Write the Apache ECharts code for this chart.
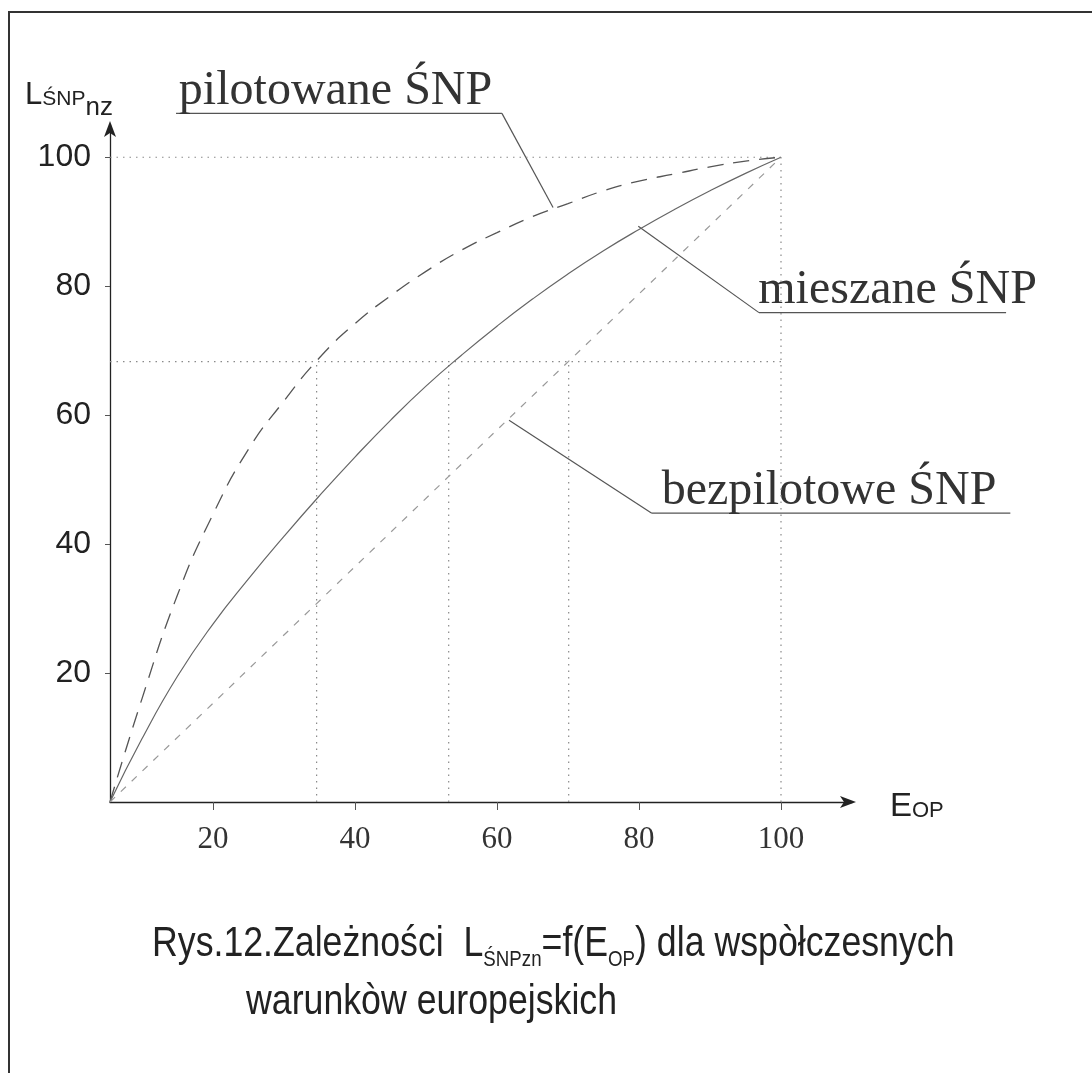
<!DOCTYPE html>
<html>
<head>
<meta charset="utf-8">
<script src="https://cdn.jsdelivr.net/npm/echarts@6/dist/echarts.min.js"></script>
<style>
  html, body { margin: 0; background: #fff; }
  #main { width: 1092px; height: 1073px; }
</style>
</head>
<body>
<div id="main"></div>
<script>
// E_OP values where the curves were read
const xs = [5.5, 10, 15, 20, 25, 30, 35, 40, 45, 50, 55, 60, 65, 70, 75, 80, 85, 90, 95, 100];
// L_SNP for piloted (long dashes)
const pilotowane = [0, 16, 32.1, 44.6, 54.7, 62.2, 68.9, 74.2, 78.5, 82.3, 85.6, 88.3, 90.8, 92.8, 94.8, 96.3, 97.4, 98.5, 99.4, 100];
// mixed (solid)
const mieszane = [0, 9.8, 19.5, 27.6, 34.6, 41.2, 47.5, 53.5, 59.2, 64.5, 69.3, 73.8, 78, 81.9, 85.5, 88.8, 91.9, 94.8, 97.5, 100];
// pilotless (short dashes), straight
const bezX = [5.5, 20, 40, 60, 80, 100];
const bezpilotowe = [0, 15.3, 36.5, 57.7, 78.8, 100];

const xTicks = [20, 40, 60, 80, 100];
const yTicks = [20, 40, 60, 80, 100];

// dotted helper lines
const guideLevel = 68.3;
const guideXs = [34.6, 53.2, 70.1];

const chart = echarts.init(document.getElementById('main'));

const dotted = { color: '#8a8a8a', width: 1.2, type: [1.5, 5] };
function guide(points) {
    return {
        type: 'line', data: points, showSymbol: false, silent: true,
        lineStyle: dotted, z: 1
    };
}

let series = [
    guide([[5.5, 100], [100, 100]]),
    guide([[100, 0], [100, 100]]),
    guide([[5.5, guideLevel], [100, guideLevel]])
];
guideXs.forEach(x => series.push(guide([[x, 0], [x, guideLevel]])));

series.push({
    name: 'pilotowane', type: 'line', smooth: true, showSymbol: false,
    data: xs.map((x, i) => [x, pilotowane[i]]),
    lineStyle: { color: '#555', width: 1.3, type: [16, 10] }, z: 3
});
series.push({
    name: 'mieszane', type: 'line', smooth: true, showSymbol: false,
    data: xs.map((x, i) => [x, mieszane[i]]),
    lineStyle: { color: '#666', width: 1.2 }, z: 3
});
series.push({
    name: 'bezpilotowe', type: 'line', showSymbol: false,
    data: bezX.map((x, i) => [x, bezpilotowe[i]]),
    lineStyle: { color: '#999', width: 1.2, type: [7, 8] }, z: 3
});

chart.setOption({
    backgroundColor: '#fff',
    animation: false,
    grid: { left: 110, right: 240, top: 125, bottom: 271, outerBoundsMode: 'none' },
    xAxis: {
        type: 'value', min: 5.5, max: 110,
        splitLine: { show: false },
        axisLine: { onZero: false, symbol: ['none', 'arrow'], symbolSize: [9, 16], symbolOffset: [0, 4],
            lineStyle: { color: '#222', width: 1.3 } },
        axisTick: { customValues: xTicks, length: 8, lineStyle: { color: '#555' } },
        axisLabel: { customValues: xTicks, margin: 22, fontSize: 31, fontFamily: 'Liberation Serif', color: '#333' }
    },
    yAxis: {
        type: 'value', min: 0, max: 105,
        splitLine: { show: false },
        axisLine: { onZero: false, symbol: ['none', 'arrow'], symbolSize: [9, 16], symbolOffset: [0, 4],
            lineStyle: { color: '#222', width: 1.3 } },
        axisTick: { customValues: yTicks, length: 5, lineStyle: { color: '#555' } },
        axisLabel: { customValues: yTicks, margin: 19, fontSize: 32, fontFamily: 'Liberation Sans', color: '#222',
            padding: [0, 0, 8, 0] }
    },
    series: series
});

// annotation layout, in axis units
const notes = [
    { text: 'pilotowane ŚNP', from: 15.2, lineY: 106.8, x0: 14.8, x1: 60.7, tip: [67.9, 92.2], side: 'right' },
    { text: 'mieszane ŚNP', from: 96.8, lineY: 75.9, x0: 96.9, x1: 131.7, tip: [79.9, 89.3], side: 'left' },
    { text: 'bezpilotowe ŚNP', from: 83.2, lineY: 44.8, x0: 81.8, x1: 132.3, tip: [61.7, 59.2], side: 'left' }
];

const ctx = document.createElement('canvas').getContext('2d');
// lay out text runs along a common baseline (dy shifts subscripts down)
function runs(x, baseline, parts, family, color, sx) {
    sx = sx || 1;
    const out = [];
    parts.forEach(p => {
        ctx.font = p.size + 'px "' + family + '"';
        out.push({
            type: 'text', x: x, y: baseline + (p.dy || 0) - 0.88 * p.size, scaleX: sx,
            style: { text: p.t, x: 0, y: 0, fontSize: p.size, fontFamily: family, fill: color, verticalAlign: 'top' }
        });
        x += ctx.measureText(p.t).width * sx;
    });
    return out;
}

const px = p => chart.convertToPixel({ gridIndex: 0 }, p);
let gfx = [{
    type: 'rect', shape: { x: 9, y: 12, width: 1110, height: 1100 },
    style: { fill: 'none', stroke: '#333', lineWidth: 2 }
}];

notes.forEach(n => {
    const a = px([n.x0, n.lineY]);
    const b = px([n.x1, n.lineY]);
    const t = px(n.tip);
    const tx = px([n.from, n.lineY]);
    const elbow = n.side === 'right' ? b : a;
    gfx.push({ type: 'polyline', shape: { points: [[a[0], a[1]], [b[0], b[1]]] }, style: { stroke: '#555', lineWidth: 1.3 } });
    gfx.push({ type: 'polyline', shape: { points: [[elbow[0], elbow[1]], [t[0], t[1]]] }, style: { stroke: '#555', lineWidth: 1.2 } });
    gfx = gfx.concat(runs(tx[0], a[1] - 4, [{ t: n.text, size: 48 }], 'Liberation Serif', '#333'));
});

// axis names
gfx = gfx.concat(runs(25, 107, [
    { t: 'L', size: 31 }, { t: 'ŚNP', size: 21 }, { t: 'nz', size: 26, dy: 11 }
], 'Liberation Sans', '#222'));
gfx = gfx.concat(runs(890, 819, [
    { t: 'E', size: 33 }, { t: 'OP', size: 22 }
], 'Liberation Sans', '#222'));

// caption
gfx = gfx.concat(runs(152, 960, [
    { t: 'Rys.12.Zależności  L', size: 42 }, { t: 'ŚNPzn', size: 22, dy: 8 },
    { t: '=f(E', size: 42 }, { t: 'OP', size: 22, dy: 8 }, { t: ') dla wspòłczesnych', size: 42 }
], 'Liberation Sans', '#222', 0.85));
gfx = gfx.concat(runs(246, 1018, [{ t: 'warunkòw europejskich', size: 42 }], 'Liberation Sans', '#222', 0.85));

chart.setOption({ graphic: gfx });
</script>
</body>
</html>
